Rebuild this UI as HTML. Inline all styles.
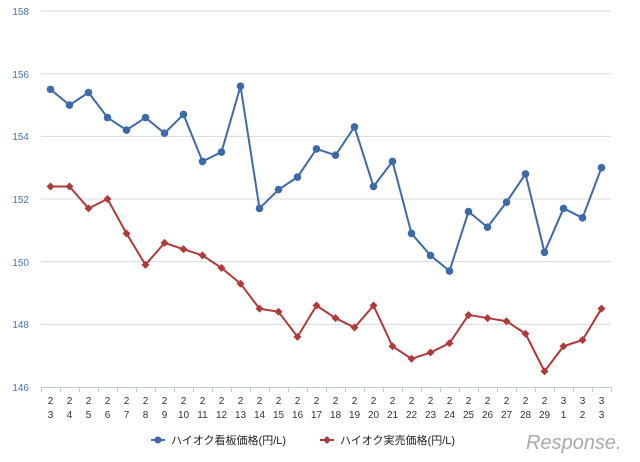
<!DOCTYPE html>
<html><head><meta charset="utf-8"><style>
html,body{margin:0;padding:0;background:#fff}
svg{display:block;font-family:"Liberation Sans","Noto Sans CJK JP",sans-serif}
</style></head><body>
<svg id="c" width="640" height="462" viewBox="0 0 640 462">
<g id="grid" stroke="#d9d9d9" stroke-width="1"></g>
<g fill="#4a74b0" font-size="10" text-anchor="end">
<text x="29" y="15">158</text><text x="29" y="78">156</text><text x="29" y="140">154</text>
<text x="29" y="203">152</text><text x="29" y="266">150</text><text x="29" y="328">148</text><text x="29" y="391">146</text>
</g>
<g id="ticks" stroke="#b8c8de" stroke-width="1"></g>
<g font-size="10" fill="#333" text-anchor="middle">
<text y="404"><tspan x="50.5">2</tspan><tspan x="69.5">2</tspan><tspan x="88.5">2</tspan><tspan x="107.5">2</tspan><tspan x="126.5">2</tspan><tspan x="145.5">2</tspan><tspan x="164.5">2</tspan><tspan x="183.5">2</tspan><tspan x="202.5">2</tspan><tspan x="221.5">2</tspan><tspan x="240.5">2</tspan><tspan x="259.5">2</tspan><tspan x="278.5">2</tspan><tspan x="297.5">2</tspan><tspan x="316.5">2</tspan><tspan x="335.5">2</tspan><tspan x="354.5">2</tspan><tspan x="373.5">2</tspan><tspan x="392.5">2</tspan><tspan x="411.5">2</tspan><tspan x="430.5">2</tspan><tspan x="449.5">2</tspan><tspan x="468.5">2</tspan><tspan x="487.5">2</tspan><tspan x="506.5">2</tspan><tspan x="525.5">2</tspan><tspan x="544.5">2</tspan><tspan x="563.5">3</tspan><tspan x="582.5">3</tspan><tspan x="601.5">3</tspan></text>
<text y="418"><tspan x="50.5">3</tspan><tspan x="69.5">4</tspan><tspan x="88.5">5</tspan><tspan x="107.5">6</tspan><tspan x="126.5">7</tspan><tspan x="145.5">8</tspan><tspan x="164.5">9</tspan><tspan x="183.5">10</tspan><tspan x="202.5">11</tspan><tspan x="221.5">12</tspan><tspan x="240.5">13</tspan><tspan x="259.5">14</tspan><tspan x="278.5">15</tspan><tspan x="297.5">16</tspan><tspan x="316.5">17</tspan><tspan x="335.5">18</tspan><tspan x="354.5">19</tspan><tspan x="373.5">20</tspan><tspan x="392.5">21</tspan><tspan x="411.5">22</tspan><tspan x="430.5">23</tspan><tspan x="449.5">24</tspan><tspan x="468.5">25</tspan><tspan x="487.5">26</tspan><tspan x="506.5">27</tspan><tspan x="525.5">28</tspan><tspan x="544.5">29</tspan><tspan x="563.5">1</tspan><tspan x="582.5">2</tspan><tspan x="601.5">3</tspan></text>
</g>
<g id="series"></g>
<g font-size="11" fill="#222">
<line x1="151" y1="440" x2="165" y2="440" stroke="#3d6aa8" stroke-width="2"/><circle cx="158" cy="440" r="3.5" fill="#3d6aa8"/>
<text x="171" y="444">ハイオク看板価格(円/L)</text>
<line x1="320" y1="440" x2="334" y2="440" stroke="#b03a3a" stroke-width="2"/><path d="M327 436 L331 440 L327 444 L323 440Z" fill="#b03a3a"/>
<text x="340" y="444">ハイオク実売価格(円/L)</text>
</g>
<text x="526" y="449" font-size="20" fill="#aaa" font-style="italic">Response.</text>
</svg>
<script>
var ns="http://www.w3.org/2000/svg";
function el(t,a,p){var e=document.createElementNS(ns,t);for(var k in a)e.setAttribute(k,a[k]);p.appendChild(e);return e;}
var g=document.getElementById('grid');
function Y(v){return 387-(v-146)*31.33;}
for(var v=148;v<=158;v+=2)el('line',{x1:41,x2:611,y1:Y(v),y2:Y(v)},g);
var t=document.getElementById('ticks');
el('line',{x1:41,x2:611,y1:387.5,y2:387.5},t);
for(var i=0;i<=30;i++)el('line',{x1:41.5+19*i,x2:41.5+19*i,y1:387,y2:392},t);
var b=[155.5,155.0,155.4,154.6,154.2,154.6,154.1,154.7,153.2,153.5,155.6,151.7,152.3,152.7,153.6,153.4,154.3,152.4,153.2,150.9,150.2,149.7,151.6,151.1,151.9,152.8,150.3,151.7,151.4,153.0];
var r=[152.4,152.4,151.7,152.0,150.9,149.9,150.6,150.4,150.2,149.8,149.3,148.5,148.4,147.6,148.6,148.2,147.9,148.6,147.3,146.9,147.1,147.4,148.3,148.2,148.1,147.7,146.5,147.3,147.5,148.5];
var s=document.getElementById('series');
function draw(d,c,dia){var p=d.map(function(v,i){return (50.5+19*i)+','+Y(v)}).join(' ');
el('polyline',{points:p,fill:'none',stroke:c,'stroke-width':2},s);
d.forEach(function(v,i){var x=50.5+19*i,y=Y(v);
if(dia)el('path',{d:'M'+x+' '+(y-4)+'L'+(x+4)+' '+y+'L'+x+' '+(y+4)+'L'+(x-4)+' '+y+'Z',fill:c},s);
else el('circle',{cx:x,cy:y,r:3.8,fill:c},s);});}
draw(r,'#b03a3a',true);draw(b,'#3d6aa8',false);
</script>
</body></html>
